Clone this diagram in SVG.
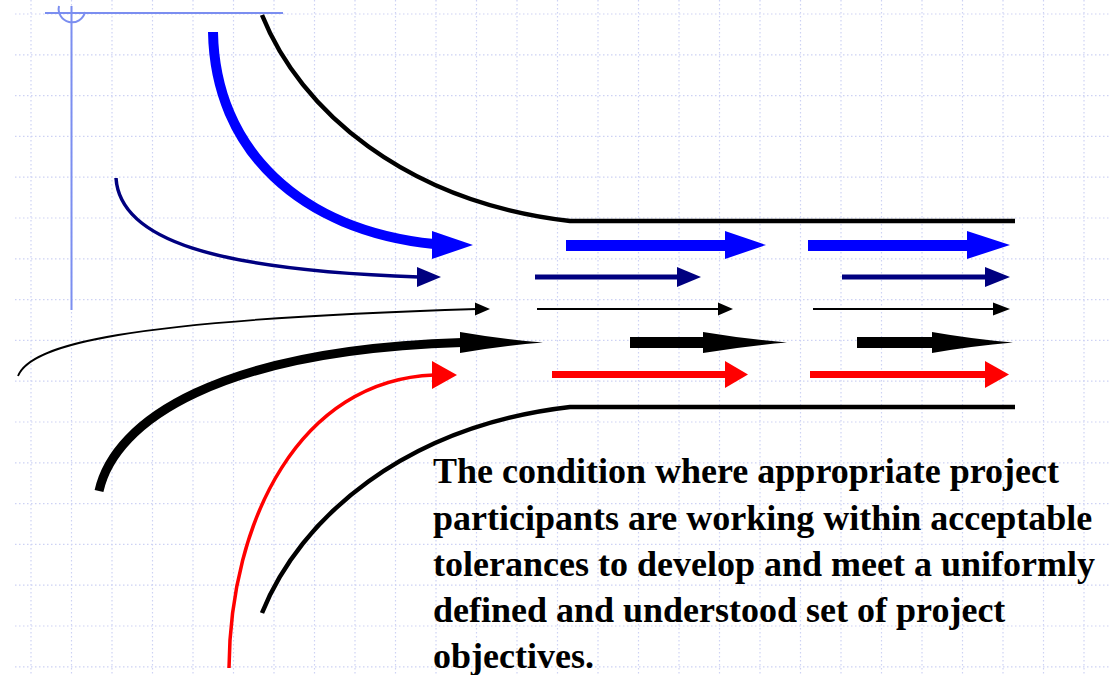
<svg xmlns="http://www.w3.org/2000/svg" width="1111" height="675" viewBox="0 0 1111 675">
<style>
.grid{stroke:#cdd2f4;stroke-width:1.2;stroke-dasharray:1.5 2.5;fill:none}
.axis{stroke:#7b8ef0;stroke-width:2;fill:none}
.bound{stroke:#000;stroke-width:4.5;fill:none}
.blue{fill:#0000ff}.blueS{stroke:#0000ff;fill:none;stroke-width:10}
.navy{fill:#000080}.navyS{stroke:#000080;fill:none;stroke-width:3.5}
.blk{fill:#000}.thinS{stroke:#000;fill:none;stroke-width:1.8}.thickS{stroke:#000;fill:none;stroke-width:9}
.red{fill:#ff0000}.redS{stroke:#ff0000;fill:none;stroke-width:3.5}
.txt{font-family:"Liberation Serif","Times New Roman",serif;font-weight:bold;font-size:36px;fill:#000}
</style>
<rect width="1111" height="675" fill="#fff"/>
<g id="grid">
<path class="grid" d="M31,0V675M71.5,0V675M112,0V675M152.5,0V675M193,0V675M233.5,0V675M274,0V675M314.5,0V675M355,0V675M395.5,0V675M436,0V675M476.5,0V675M517,0V675M557.5,0V675M598,0V675M638.5,0V675M679,0V675M719.5,0V675M760,0V675M800.5,0V675M841,0V675M881.5,0V675M922,0V675M962.5,0V675M1003,0V675M1043.5,0V675M1084,0V675"/>
<path class="grid" d="M15,14H1111M15,54.8H1111M15,95.6H1111M15,136.4H1111M15,177.2H1111M15,218H1111M15,258.8H1111M15,299.6H1111M15,340.4H1111M15,381.2H1111M15,422H1111M15,462.8H1111M15,503.6H1111M15,544.4H1111M15,585.2H1111M15,626H1111M15,666.8H1111"/>
</g>
<g id="axis">
<path class="axis" d="M45,13H283M71.5,6V310"/>
<path class="axis" d="M59,6A13,13 0 1 0 85,12"/>
</g>
<g id="boundaries">
<path class="bound" d="M262,15C300,110 405,202 570,221L1015,221"/>
<path class="bound" d="M262,613C300,518 405,426 570,407L1015,407"/>
</g>
<g id="connectors">
<g id="blue-flow">
<path class="blueS" d="M213,32C215,150 300,230 434,244"/>
<path class="blue" d="M432,231L473,245L432,259Z"/>
<rect class="blue" x="566" y="240" width="161" height="11"/>
<path class="blue" d="M725,231L766,245L725,259Z"/>
<rect class="blue" x="808" y="240" width="161" height="11"/>
<path class="blue" d="M967,231L1010,245L967,259Z"/>
</g>
<g id="navy-flow">
<path class="navyS" d="M116,178C120,240 215,270 419,277"/>
<path class="navy" d="M417,267L441,277L417,287Z"/>
<rect class="navy" x="535" y="274.5" width="144" height="5"/>
<path class="navy" d="M677,267L701,277L677,287Z"/>
<rect class="navy" x="842" y="274.5" width="145" height="5"/>
<path class="navy" d="M985,267L1010,277L985,287Z"/>
</g>
<g id="thin-flow">
<path class="thinS" d="M18,376C30,345 120,320 477,309"/>
<path class="blk" d="M475,302.5L490,309L475,315.5Z"/>
<path class="thinS" d="M537,309H720"/>
<path class="blk" d="M718,302.5L733,309L718,315.5Z"/>
<path class="thinS" d="M813,309H995"/>
<path class="blk" d="M993,302.5L1010,309L993,315.5Z"/>
</g>
<g id="thick-flow">
<path class="thickS" d="M99,491C115,420 220,350 462,342.5"/>
<path class="blk" d="M460,332Q500,339 543,342.5Q500,346 460,353Z"/>
<rect class="blk" x="630" y="337" width="75" height="11"/>
<path class="blk" d="M703,332Q745,339 787,342.5Q745,346 703,353Z"/>
<rect class="blk" x="857" y="337" width="77" height="11"/>
<path class="blk" d="M932,332Q972,339 1013,342.5Q972,346 932,353Z"/>
</g>
<g id="red-flow">
<path class="redS" d="M229,668C230,520 300,380 434,375"/>
<path class="red" d="M432,361L457,375L432,389Z"/>
<rect class="red" x="552" y="371" width="175" height="7"/>
<path class="red" d="M725,361L748,374.5L725,388Z"/>
<rect class="red" x="810" y="371" width="177" height="7"/>
<path class="red" d="M985,361L1009,374.5L985,388Z"/>
</g>
</g>
<g id="definition">
<text class="txt" x="433" y="483">The condition where appropriate project</text>
<text class="txt" x="433" y="530">participants are working within acceptable</text>
<text class="txt" x="433" y="576">tolerances to develop and meet a uniformly</text>
<text class="txt" x="433" y="622">defined and understood set of project</text>
<text class="txt" x="433" y="668">objectives.</text>
</g>
</svg>
